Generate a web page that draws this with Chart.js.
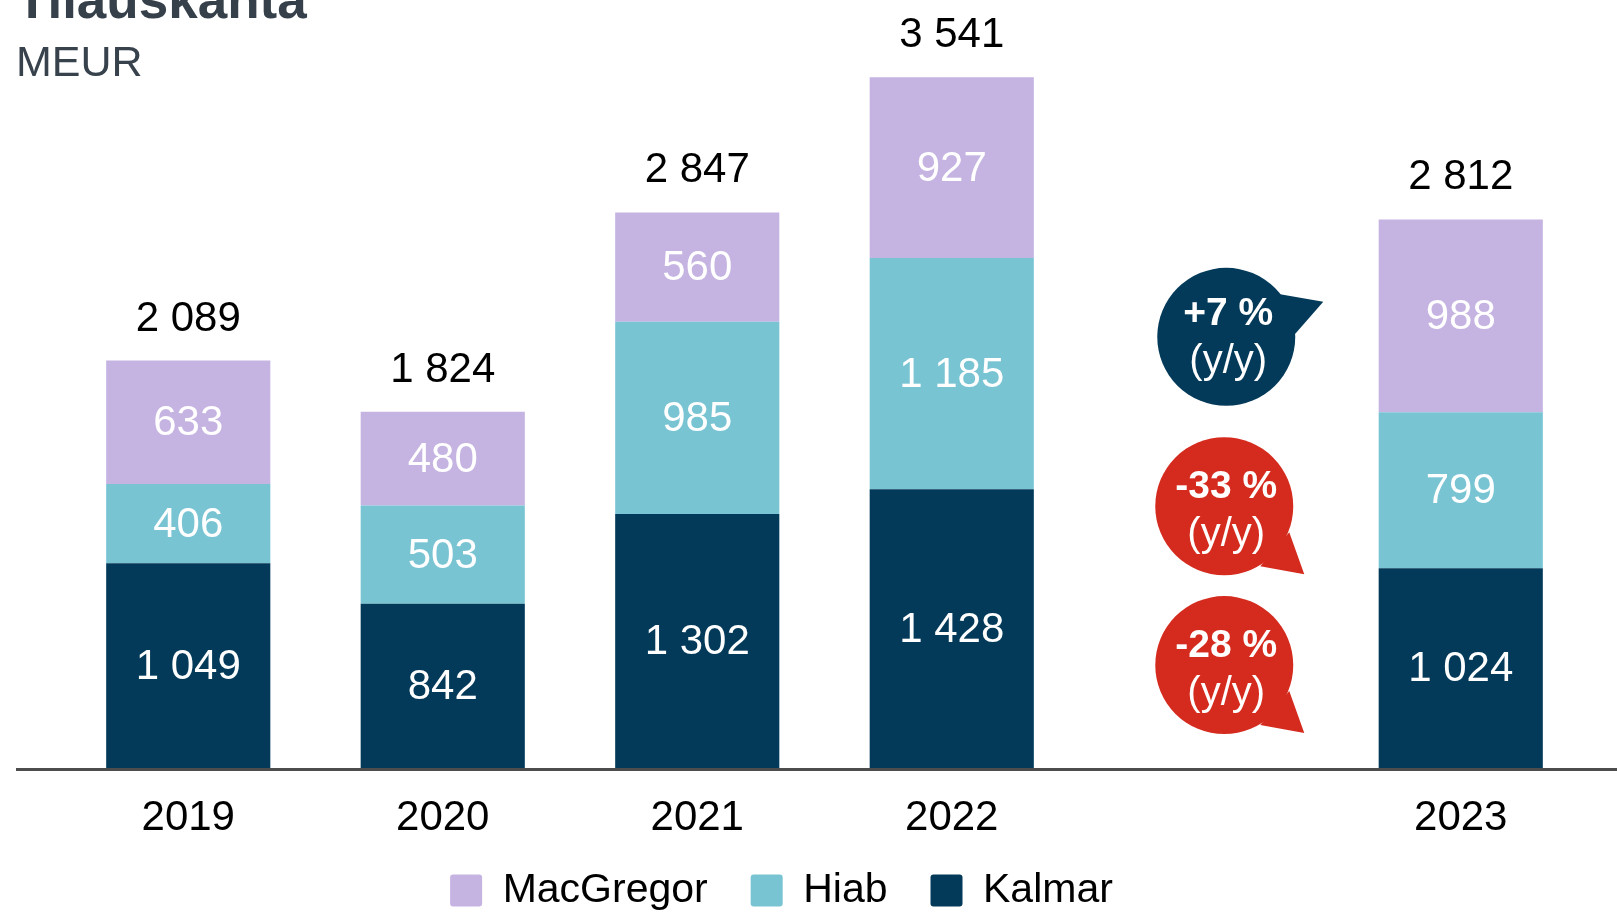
<!DOCTYPE html>
<html>
<head>
<meta charset="utf-8">
<title>Tilauskanta</title>
<script src="https://cdn.jsdelivr.net/npm/chart.js@4.4.1/dist/chart.umd.min.js"></script>
<style>
  html, body { margin: 0; padding: 0; background: #fff; overflow: hidden; }
  #wrap { position: relative; width: 1617px; height: 914px; overflow: hidden; }
  #chart { position: absolute; left: 0; top: 0; }
  .title { position: absolute; left: 16px; top: -27px; font: bold 53px/53px "Liberation Sans", Arial, sans-serif; color: #36404a; white-space: nowrap; }
  .unit { position: absolute; left: 16px; top: 40px; font: 43px/43px "Liberation Sans", Arial, sans-serif; color: #37424d; }
</style>
</head>
<body>
<div id="wrap">
  <canvas id="chart" width="1617" height="914"></canvas>
  <div class="title">Tilauskanta</div>
  <div class="unit">MEUR</div>
</div>
<script>
// data (MEUR), the empty slot between 2022 and 2023 is on purpose
const years = ['2019', '2020', '2021', '2022', '', '2023'];
const kalmar = [1049, 842, 1302, 1428, null, 1024];
const hiab = [406, 503, 985, 1185, null, 799];
const macgregor = [633, 480, 560, 927, null, 988];
const totals = [2089, 1824, 2847, 3541, null, 2812];
// y/y change of 2023 vs 2022, top to bottom: MacGregor, Hiab, Kalmar
const changes = ['+7 %', '-33 %', '-28 %'];

const navy = '#033a59';
const teal = '#78c4d3';
const lilac = '#c5b3e2';
const red = '#d52b1e';
const family = '"Liberation Sans", Arial, sans-serif';

Chart.defaults.font.family = family;

const fmt = v => String(v).replace(/\B(?=(\d{3})+(?!\d))/g, ' ');

// values inside the segments + totals above the bars
const barLabels = {
  id: 'barLabels',
  afterDatasetsDraw(chart) {
    const { ctx } = chart;
    ctx.save();
    ctx.textAlign = 'center';
    ctx.textBaseline = 'alphabetic';
    ctx.font = '42px ' + family;
    ctx.fillStyle = '#fff';
    chart.data.datasets.forEach((ds, di) => {
      chart.getDatasetMeta(di).data.forEach((bar, i) => {
        if (ds.data[i] == null) return;
        ctx.fillText(fmt(ds.data[i]), bar.x, (bar.y + bar.base) / 2 + 13);
      });
    });
    const topBars = chart.getDatasetMeta(chart.data.datasets.length - 1).data;
    ctx.fillStyle = '#000';
    totals.forEach((t, i) => {
      if (t == null) return;
      ctx.fillText(fmt(t), topBars[i].x, topBars[i].y - 30);
    });

    // base line, runs wider than the plot
    const y = chart.chartArea.bottom + 1.5;
    ctx.strokeStyle = '#4d4d4d';
    ctx.lineWidth = 3;
    ctx.beginPath();
    ctx.moveTo(16, y);
    ctx.lineTo(chart.width, y);
    ctx.stroke();
    ctx.restore();
  }
};

// speech bubbles with the y/y change
const callouts = {
  id: 'callouts',
  afterDraw(chart) {
    const { ctx } = chart;
    const last = years.length - 1;
    const gapX = chart.scales.x.getPixelForValue(last - 1);
    const tailUp = [[51, -43], [97, -35], [69, -3]];
    const tailDown = [[65, 26], [80, 68], [36, 60]];
    const bubbles = [
      { ds: 2, text: changes[0], color: navy, dx: 20, dy: 21, ty: -4, tail: tailUp },
      { ds: 1, text: changes[1], color: red, dx: 18, dy: 16, ty: 0, tail: tailDown },
      { ds: 0, text: changes[2], color: red, dx: 18, dy: -3, ty: 0, tail: tailDown }
    ];
    ctx.save();
    bubbles.forEach(b => {
      const bar = chart.getDatasetMeta(b.ds).data[last];
      const cx = gapX + b.dx;
      const cy = (bar.y + bar.base) / 2 + b.dy;
      ctx.fillStyle = b.color;
      ctx.beginPath();
      ctx.arc(cx, cy, 69, 0, Math.PI * 2);
      ctx.fill();
      ctx.beginPath();
      ctx.moveTo(cx + b.tail[0][0], cy + b.tail[0][1]);
      ctx.lineTo(cx + b.tail[1][0], cy + b.tail[1][1]);
      ctx.lineTo(cx + b.tail[2][0], cy + b.tail[2][1]);
      ctx.closePath();
      ctx.fill();

      ctx.fillStyle = '#fff';
      ctx.textAlign = 'center';
      ctx.textBaseline = 'alphabetic';
      ctx.font = 'bold 39px ' + family;
      ctx.fillText(b.text, cx + 2, cy - 8 + b.ty);
      ctx.font = '40px ' + family;
      ctx.fillText('(y/y)', cx + 2, cy + 40 + b.ty);
    });
    ctx.restore();
  }
};

// the legend in the original sits left of the plot centre and close under the years
const legendPlace = {
  id: 'legendPlace',
  afterLayout(chart) {
    const lg = chart.legend;
    const h = lg.bottom - lg.top;
    lg.top = chart.chartArea.bottom + 59;
    lg.bottom = lg.top + h;
    lg.left -= 43;
    lg.right -= 43;
  }
};

new Chart(document.getElementById('chart'), {
  type: 'bar',
  data: {
    labels: years,
    datasets: [
      { label: 'Kalmar', data: kalmar, backgroundColor: navy },
      { label: 'Hiab', data: hiab, backgroundColor: teal },
      { label: 'MacGregor', data: macgregor, backgroundColor: lilac }
    ]
  },
  options: {
    responsive: false,
    animation: false,
    events: [],
    datasets: {
      bar: { categoryPercentage: 1, barPercentage: 0.645 }
    },
    layout: {
      padding: { top: 77, left: 61, right: 29, bottom: -18 }
    },
    scales: {
      x: {
        stacked: true,
        grid: { display: false, drawTicks: false },
        border: { display: false },
        ticks: {
          color: '#000',
          font: { size: 42 },
          padding: 25,
          autoSkip: false,
          maxRotation: 0
        },
        afterFit(scale) {
          scale.height = 70;
        }
      },
      y: {
        stacked: true,
        display: false,
        min: 0,
        max: Math.max(...totals)
      }
    },
    plugins: {
      legend: {
        position: 'bottom',
        reverse: true,
        labels: {
          boxWidth: 32,
          boxHeight: 32,
          padding: 43,
          color: '#000',
          font: { size: 41 },
          useBorderRadius: true,
          borderRadius: 3
        }
      },
      tooltip: { enabled: false }
    }
  },
  plugins: [barLabels, callouts, legendPlace]
});
</script>
</body>
</html>
